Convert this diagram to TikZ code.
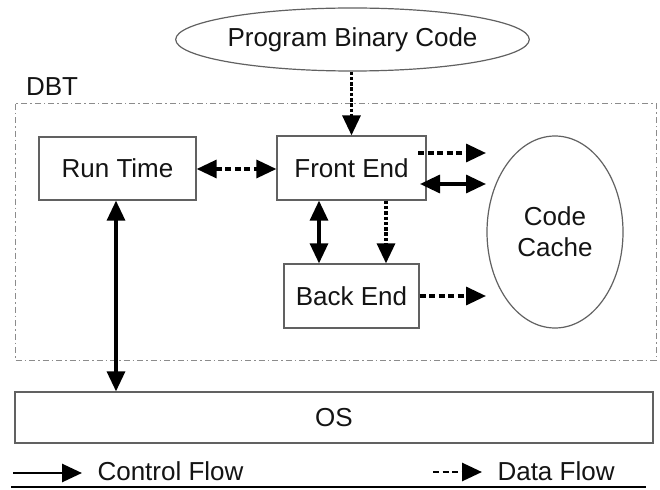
\documentclass[tikz,border=0pt]{standalone}
\usepackage{fontspec}
\setmainfont{Liberation Sans}
\usetikzlibrary{arrows.meta,shapes.geometric}
\begin{document}
\begin{tikzpicture}[x=1pt,y=-1pt,
  every node/.style={font=\fontsize{26}{31}\selectfont, text=black!92},
  box/.style={draw=black!62, line width=1.3pt, fill=white, inner sep=0pt},
  oval/.style={ellipse, draw=black!62, line width=1.2pt, fill=white, inner sep=0pt, align=center},
  ctrl/.style={line width=3.3pt, black},
  dataflow/.style={line width=3.3pt, black, dash pattern=on 6pt off 3.5pt},
  dotflow/.style={line width=3.3pt, black, dash pattern=on 3.5pt off 1.8pt},
  tip/.style={-{Triangle[length=20pt,width=18pt]}},
  tips/.style={{Triangle[length=20pt,width=18pt]}-{Triangle[length=20pt,width=18pt]}},
  region/.style={draw=black!45, line width=1pt, dash pattern=on 6pt off 3pt on 1.5pt off 3pt}
]
\useasboundingbox (0,0) rectangle (660,489);
\fill[white] (0,0) rectangle (660,489);

% DBT region
\draw[region] (15,104) rectangle (656,360);
\node (dbt) at (52,87) {DBT};

% nodes
\node[oval, minimum width=339pt, minimum height=63pt] (pbc) at (352.5,39.5) {Program Binary Code};
\node[box, minimum width=157pt, minimum height=63pt] (rt) at (117.5,168.5) {Run Time};
\node[box, minimum width=149pt, minimum height=64pt] (fe) at (351.5,168) {Front End};
\node[box, minimum width=135pt, minimum height=64pt] (be) at (351.5,296) {Back End};
\node[oval, minimum width=136pt, minimum height=192pt] (cc) at (555,232) {Code\\Cache};
\node[box, minimum width=638pt, minimum height=51pt] (os) at (334,417.5) {OS};

% tip coordinates near Code Cache
\coordinate (cc1) at (486,153);
\coordinate (cc2) at (486,184);
\coordinate (cc3) at (486,296);
\coordinate (fe1) at (418,153);
\coordinate (fe2) at (420,184);

% connectors
\draw[dotflow, tip] (pbc.south -| fe.north) -- (fe.north);
\draw[dataflow, tips] (rt.east |- 0,169) -- (fe.west |- 0,169);
\draw[dataflow, tip] (fe1) -- (cc1);
\draw[ctrl, tips] (fe2) -- (cc2);
\draw[ctrl, tips] (fe.south -| 319,0) -- (be.north -| 319,0);
\draw[dotflow, tip] (fe.south -| 386,0) -- (be.north -| 386,0);
\draw[dataflow, tip] (be.east) -- (cc3);
\draw[ctrl, tips] (rt.south -| 116,0) -- (os.north -| 116,0);

% legend
\coordinate (l1a) at (13,473);
\coordinate (l1b) at (82,473);
\draw[line width=2.8pt, black, tip] (l1a) -- (l1b);
\node[anchor=west] (lc) at (94,471) {Control Flow};
\coordinate (l2a) at (433,472);
\coordinate (l2b) at (482,472);
\draw[line width=2.8pt, black, dash pattern=on 6pt off 3.5pt, tip] (l2a) -- (l2b);
\node[anchor=west] (ld) at (494,471) {Data Flow};
\coordinate (ul1) at (11,487);
\coordinate (ul2) at (646,487);
\draw[line width=2pt, black] (ul1) -- (ul2);
\end{tikzpicture}
\end{document}
